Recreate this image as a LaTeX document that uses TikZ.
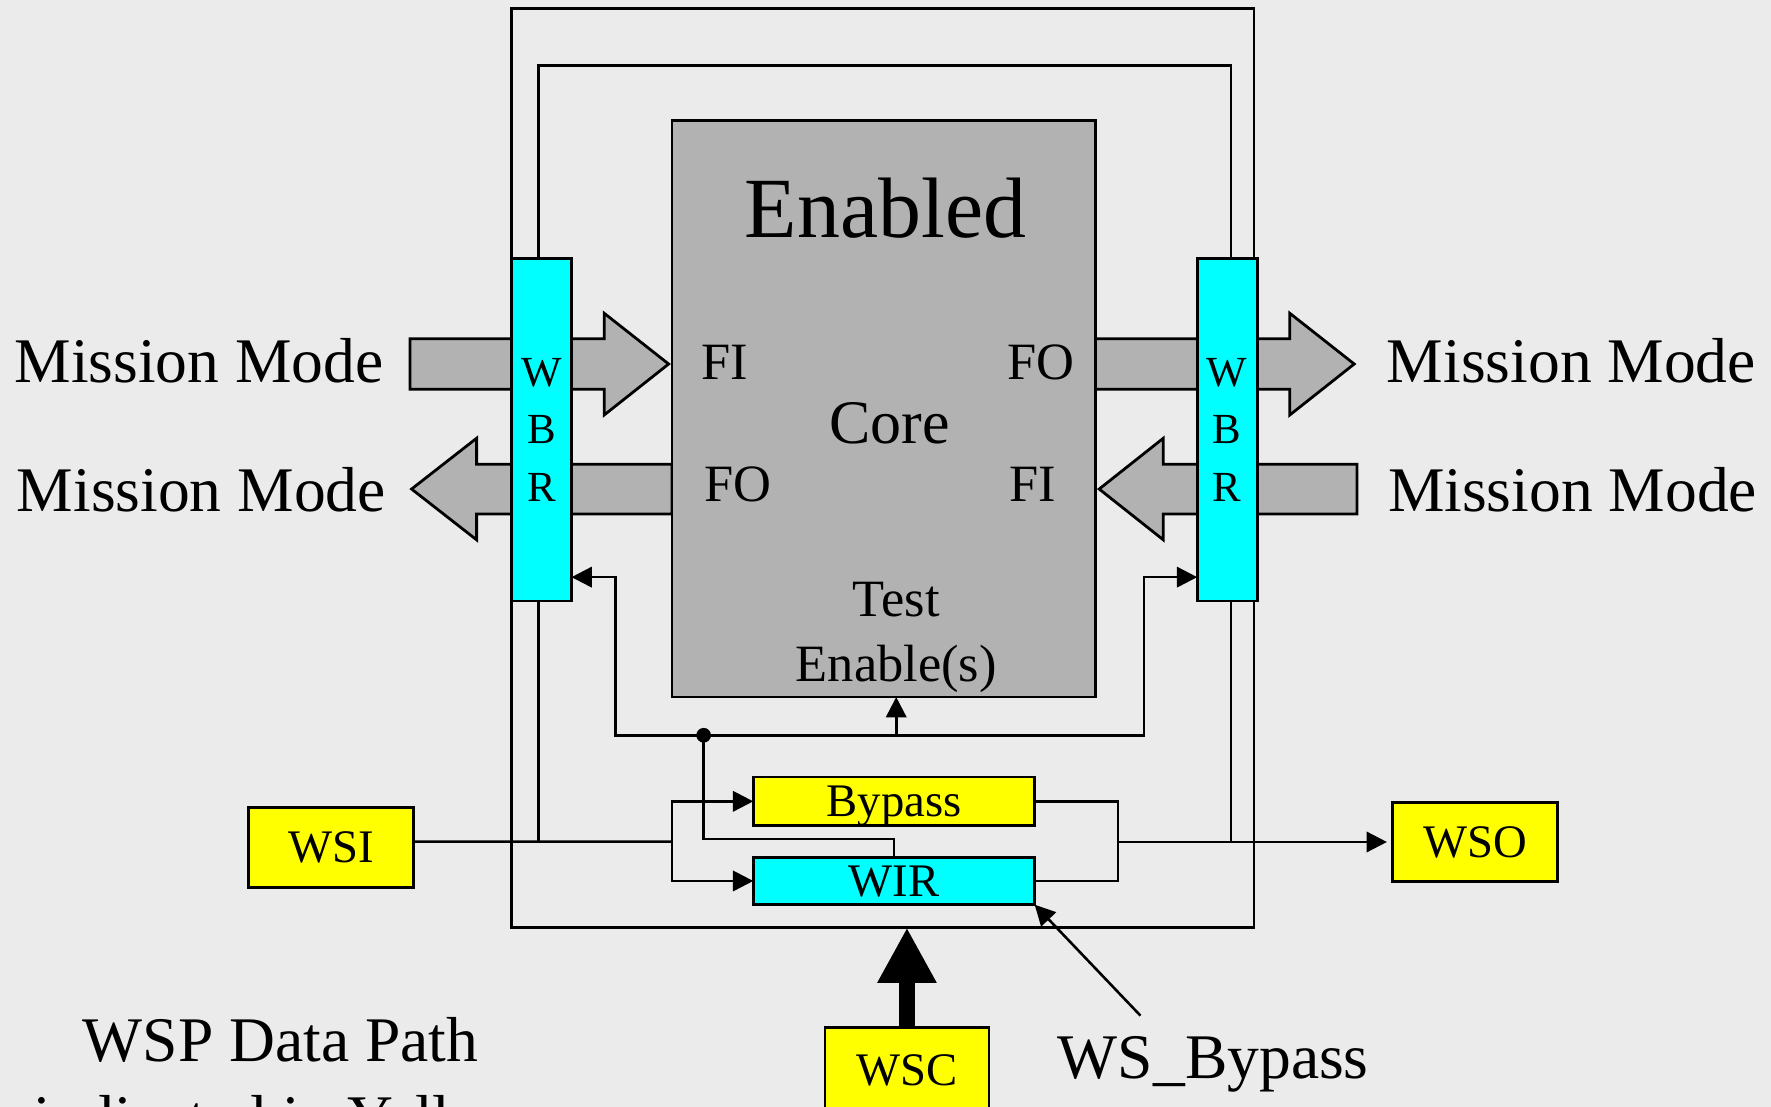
\documentclass[tikz,border=0pt]{standalone}
\usepackage{fontspec}
\setmainfont{Liberation Serif}
\usetikzlibrary{arrows.meta}
\definecolor{slidebg}{RGB}{235,235,235}
\definecolor{coregray}{RGB}{178,178,178}
\definecolor{regcyan}{RGB}{0,255,255}
\definecolor{pinyellow}{RGB}{255,255,0}

\begin{document}
\begin{tikzpicture}[x=0.01cm, y=-0.01cm, line width=0.65pt,
    frame/.style={draw, inner sep=0pt, outer sep=0pt, line width=0.7pt},
    regbox/.style={frame, text height=7.7pt, text depth=0pt, font=\fontsize{11.75}{14}\selectfont},
    wsbox/.style={regbox, fill=pinyellow, minimum width=1.46cm},
    wbr/.style={frame, fill=regcyan, minimum width=0.53cm, minimum height=3.03cm, align=center, font=\fontsize{10.8}{14.5}\selectfont},
    mmarrow/.style={draw, fill=coregray, line width=0.7pt},
    lbl/.style={inner sep=0pt, outer sep=0pt},
    mmfont/.style={font=\fontsize{16}{18.9}\selectfont},
    portfont/.style={font=\fontsize{13.2}{16.4}\selectfont},
    ctrl/.style={-{Triangle[length=0.18cm,width=0.18cm]}}]
  \fill[slidebg] (0,0) rectangle (1568,980);
  \useasboundingbox (0,0) rectangle (1568,980);
  \clip (0,0) rectangle (1568,980);

  \node[frame, minimum width=6.57cm, minimum height=8.13cm] (wrapper) at (781.5,414.5) {};

  \filldraw[mmarrow] (363,300) -- (535,300) -- (535,277.4) -- (592,322.3) -- (535,367.4) -- (535,344.7) -- (363,344.7) -- cycle;
  \filldraw[mmarrow] (595,411) -- (422,411) -- (422,388) -- (364.4,433) -- (422,478) -- (422,455) -- (595,455) -- cycle;
  \filldraw[mmarrow] (970,300) -- (1142,300) -- (1142,277.4) -- (1199,322.3) -- (1142,367.4) -- (1142,344.7) -- (970,344.7) -- cycle;
  \filldraw[mmarrow] (1201.5,411) -- (1030,411) -- (1030,388) -- (973.2,433) -- (1030,478) -- (1030,455) -- (1201.5,455) -- cycle;

  \node[frame, fill=coregray, minimum width=3.75cm, minimum height=5.10cm] (core) at (782.5,362) {};
  \node[wbr] (wbrL) at (479.5,380.5) {W\\B\\R};
  \node[wbr] (wbrR) at (1086.5,380.5) {W\\B\\R};

  \node[lbl, font=\fontsize{21.6}{26}\selectfont, anchor=base] (enabled) at (784,210) {Enabled};
  \node[lbl, font=\fontsize{15.6}{19}\selectfont, anchor=base] (corename) at (787.6,392.5) {Core};
  \node[lbl, portfont, anchor=base west] (fiL) at (621,335.8) {FI};
  \node[lbl, portfont, anchor=base west] (foL) at (624,444) {FO};
  \node[lbl, portfont, anchor=base east] (foR) at (951,335.8) {FO};
  \node[lbl, portfont, anchor=base east] (fiR) at (935,444) {FI};
  \node[lbl, portfont, anchor=north, align=center] (testen) at (793.5,515.7) {Test\\Enable(s)};

  \node[lbl, mmfont, anchor=base west] (mmLin) at (13,339) {Mission Mode};
  \node[lbl, mmfont, anchor=base west] (mmLout) at (15,453) {Mission Mode};
  \node[lbl, mmfont, anchor=base west] (mmRout) at (1228,339) {Mission Mode};
  \node[lbl, mmfont, anchor=base west] (mmRin) at (1229,453) {Mission Mode};

  \node[regbox, fill=pinyellow, minimum width=2.49cm, minimum height=0.43cm] (bypass) at (791.5,709.5) {Bypass};
  \node[regbox, fill=regcyan, minimum width=2.49cm, minimum height=0.42cm] (wir) at (791.5,780) {WIR};
  \node[wsbox, minimum height=0.71cm] (wsi) at (293,750.2) {WSI};
  \node[wsbox, minimum height=0.70cm] (wso) at (1306,745.5) {WSO};
  \node[wsbox, minimum width=1.45cm, minimum height=0.75cm] (wsc) at (803,947.5) {WSC};

  \node[lbl, mmfont, anchor=base west] (wsbypass) at (936.7,954.5) {WS\_Bypass};
  \node[lbl, font=\fontsize{16}{19.5}\selectfont, align=center, anchor=north] (note) at (248.5,901) {WSP Data Path\\indicated in Yellow};

  \coordinate (looptop) at (0,58);
  \coordinate (chainin) at (595,745.2);
  \coordinate (chainout) at (990,745.5);
  \coordinate (ctl) at (623,651);
  \coordinate (ctlL) at (545,511);
  \coordinate (ctlR) at (1013,511);

  \draw ([xshift=-0.025cm]wbrL.north) -- ([xshift=-0.025cm]wbrL.north |- looptop) -- ([xshift=0.035cm]wbrR.north |- looptop) -- ([xshift=0.035cm]wbrR.north);
  \draw ([xshift=-0.025cm]wbrL.south) -- ([xshift=-0.025cm]wbrL.south |- chainin);
  \draw ([xshift=0.035cm]wbrR.south) -- ([xshift=0.035cm]wbrR.south |- chainout);

  \draw ([yshift=0.05cm]wsi.east) -- (chainin);
  \draw[ctrl] (chainin) |- (bypass.west);
  \draw[ctrl] (chainin) |- (wir.west);
  \draw (bypass.east) -| (chainout);
  \draw (wir.east) -| (chainout);
  \draw[ctrl, shorten >=0.05cm] (chainout) -- (wso.west);

  \draw[ctrl] (ctl) -| (ctlL) -- (ctlL -| wbrL.east);
  \draw[ctrl] (ctl) -| (ctlR) -- (ctlR -| wbrR.west);
  \draw[ctrl] (testen.south |- ctl) -- (testen.south |- core.south);
  \fill (ctl) circle (0.065cm);
  \draw (ctl) |- ([yshift=0.16cm]wir.north) -- (wir.north);

  \draw[ctrl] ([shift={(0.73cm,0.18cm)}]wsbypass.north west) -- (wir.south east);
  \draw[line width=0.14cm, -{Triangle[length=0.49cm,width=0.49cm]}] (wsc.north) -- (wsc.north |- wrapper.south);
\end{tikzpicture}
\end{document}
